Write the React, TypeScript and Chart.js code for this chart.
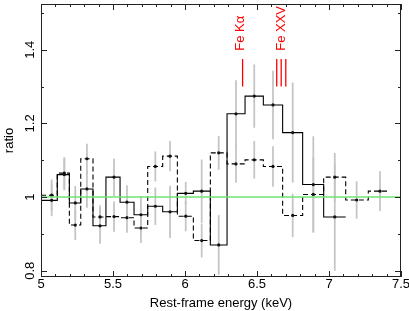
import React, { useEffect, useRef } from 'react';
import { Chart, registerables } from 'chart.js';

Chart.register(...registerables);

// ---- data ----
const binEdges = [5.0, 5.113, 5.197, 5.276, 5.361, 5.451, 5.549, 5.646, 5.741, 5.845, 5.947, 6.058, 6.176, 6.292, 6.417, 6.544, 6.678, 6.817, 6.963, 7.116, 7.273, 7.405];
const binCenters = [5.074, 5.162, 5.238, 5.319, 5.41, 5.507, 5.597, 5.694, 5.794, 5.896, 6.005, 6.116, 6.234, 6.354, 6.481, 6.611, 6.748, 6.891, 7.04, 7.192, 7.354];

const solidRatio = [0.991, 1.061, 0.984, 1.022, 0.922, 1.054, 0.986, 0.952, 0.975, 0.96, 1.01, 1.016, 0.87, 1.226, 1.274, 1.25, 1.175, 1.034, 0.946];
const solidErr = [0.042, 0.042, 0.045, 0.05, 0.048, 0.05, 0.045, 0.05, 0.05, 0.07, 0.03, 0.085, 0.08, 0.09, 0.085, 0.092, 0.135, 0.13, 0.145];

const dashedRatio = [1.005, 1.065, 0.924, 1.104, 0.946, 0.947, 0.944, 0.916, 1.083, 1.111, 0.948, 0.882, 1.12, 1.09, 1.101, 1.083, 0.95, 1.007, 1.054, 0.992, 1.016];
const dashedErr = [0.042, 0.042, 0.04, 0.04, 0.03, 0.04, 0.04, 0.04, 0.04, 0.04, 0.04, 0.045, 0.045, 0.05, 0.05, 0.054, 0.058, 0.1, 0.065, 0.05, 0.053];

const xTickValues = [5, 5.5, 6, 6.5, 7, 7.5];
const yTickValues = [0.8, 1, 1.2, 1.4];
const unityLine = [1];

const feKaEnergies = [6.4];
const feXXVEnergies = [6.637, 6.668, 6.7];
const markerLineRange = [1.3, 1.375];
const lineLabels = ['Fe Kα', 'Fe XXV'];
const lineLabelEnergies = [6.382, 6.672];
const lineLabelBase = 1.397;

const X_MIN = 5;
const X_MAX = 7.5;
const Y_MIN = 0.783;
const Y_MAX = 1.524;

const FONT = '"Liberation Sans", Arial, Helvetica, sans-serif';

function stepPoints(values: number[]) {
  const pts = values.map((v, i) => ({ x: binEdges[i], y: v }));
  pts.push({ x: binEdges[values.length], y: values[values.length - 1] });
  return pts;
}

function errorBars(values: number[], errs: number[]) {
  return values.map((v, i) => ({ x: binCenters[i], y: [v - errs[i], v + errs[i]] }));
}

function centerPoints(values: number[]) {
  return values.map((v, i) => ({ x: binCenters[i], y: v }));
}

function markerLines(energies: number[][]) {
  const pts: any[] = [];
  energies.forEach((group) => {
    group.forEach((e) => {
      pts.push({ x: e, y: markerLineRange[0] });
      pts.push({ x: e, y: markerLineRange[1] });
      pts.push({ x: e, y: null });
    });
  });
  return pts;
}

const framePlugin = {
  id: 'frameTicks',
  afterDatasetsDraw(chart: any) {
    const { ctx, chartArea: a, scales } = chart;
    const xs = scales.x;
    const ys = scales.y;
    ctx.save();
    ctx.strokeStyle = '#222';
    ctx.lineWidth = 1;
    ctx.strokeRect(a.left + 0.5, a.top + 0.5, a.right - a.left - 1, a.bottom - a.top - 1);
    ctx.beginPath();
    for (let i = 0; i <= 25; i++) {
      const v = X_MIN + i * 0.1;
      const px = Math.round(xs.getPixelForValue(v)) + 0.5;
      const len = i % 5 === 0 ? 6 : 3;
      ctx.moveTo(px, a.bottom);
      ctx.lineTo(px, a.bottom - len);
      ctx.moveTo(px, a.top);
      ctx.lineTo(px, a.top + len);
    }
    for (let i = 8; i <= 15; i++) {
      const v = i / 10;
      const py = Math.round(ys.getPixelForValue(v)) + 0.5;
      const len = i % 2 === 0 ? 6 : 3;
      ctx.moveTo(a.left, py);
      ctx.lineTo(a.left + len, py);
      ctx.moveTo(a.right, py);
      ctx.lineTo(a.right - len, py);
    }
    ctx.stroke();

    // line labels
    ctx.fillStyle = '#ff0000';
    ctx.font = `13px ${FONT}`;
    ctx.textAlign = 'left';
    ctx.textBaseline = 'middle';
    lineLabels.forEach((label, i) => {
      const px = xs.getPixelForValue(lineLabelEnergies[i]);
      const py = ys.getPixelForValue(lineLabelBase);
      ctx.save();
      ctx.translate(px, py);
      ctx.rotate(-Math.PI / 2);
      ctx.fillText(label, 0, 0);
      ctx.restore();
    });
    ctx.restore();
  },
};

export default function App() {
  const ref = useRef<HTMLCanvasElement>(null);

  useEffect(() => {
    document.body.style.margin = '0';
    const canvas = ref.current;
    if (!canvas) return;
    const chart = new Chart(canvas, {
      type: 'line',
      data: {
        datasets: [
          {
            type: 'bar',
            data: errorBars(solidRatio, solidErr) as any,
            backgroundColor: '#c4c4c4',
            borderWidth: 0,
            barThickness: 1.1,
            grouped: false,
            order: 5,
          } as any,
          {
            type: 'bar',
            data: errorBars(dashedRatio, dashedErr) as any,
            backgroundColor: '#c4c4c4',
            borderWidth: 0,
            barThickness: 1.1,
            grouped: false,
            order: 5,
          } as any,
          {
            data: stepPoints(solidRatio),
            borderColor: '#000',
            borderWidth: 1.1,
            stepped: 'before',
            pointRadius: 0,
            fill: false,
            order: 3,
          },
          {
            data: stepPoints(dashedRatio),
            borderColor: '#000',
            borderWidth: 1.1,
            borderDash: [5, 3],
            stepped: 'before',
            pointRadius: 0,
            fill: false,
            order: 3,
          },
          {
            data: centerPoints(solidRatio),
            showLine: false,
            pointRadius: 1.6,
            pointBackgroundColor: '#111',
            pointBorderWidth: 0,
            order: 2,
          },
          {
            data: centerPoints(dashedRatio),
            showLine: false,
            pointRadius: 1.6,
            pointBackgroundColor: '#111',
            pointBorderWidth: 0,
            order: 2,
          },
          {
            data: [
              { x: X_MIN, y: unityLine[0] },
              { x: X_MAX, y: unityLine[0] },
            ],
            borderColor: '#72e472',
            borderWidth: 1.5,
            pointRadius: 0,
            order: 0,
          },
          {
            data: markerLines([feKaEnergies, feXXVEnergies]),
            borderColor: '#ff0000',
            borderWidth: 1.3,
            pointRadius: 0,
            spanGaps: false,
            order: 0,
          },
        ] as any,
      },
      options: {
        animation: false,
        responsive: false,
        maintainAspectRatio: false,
        layout: { padding: { top: 1, right: 8, left: 0, bottom: 0 } },
        plugins: { legend: { display: false }, tooltip: { enabled: false } },
        scales: {
          x: {
            type: 'linear',
            min: X_MIN,
            max: X_MAX,
            offset: false,
            grid: { display: false, offset: false, drawTicks: false },
            border: { display: false },
            afterBuildTicks: (s: any) => {
              s.ticks = xTickValues.map((v) => ({ value: v }));
            },
            afterFit: (s: any) => {
              s.height = 34;
              s.paddingLeft = 0;
              s.paddingRight = 0;
            },
            ticks: {
              padding: 0,
              color: '#000',
              autoSkip: false,
              maxRotation: 0,
              font: { family: FONT, size: 13 },
              callback: (v: any) => String(Number(Number(v).toFixed(2))),
            },
            title: {
              display: true,
              text: 'Rest-frame energy (keV)',
              color: '#000',
              font: { family: FONT, size: 13 },
              padding: { top: 0, bottom: 0 },
            },
          },
          y: {
            type: 'linear',
            min: Y_MIN,
            max: Y_MAX,
            beginAtZero: false,
            grid: { display: false, drawTicks: false },
            border: { display: false },
            afterBuildTicks: (s: any) => {
              s.ticks = yTickValues.map((v) => ({ value: v }));
            },
            afterFit: (s: any) => {
              s.width = 41;
              s.paddingTop = 0;
              s.paddingBottom = 0;
            },
            ticks: {
              padding: 2,
              color: '#000',
              minRotation: 90,
              maxRotation: 90,
              crossAlign: 'center',
              font: { family: FONT, size: 13 },
              callback: (v: any) => String(Number(Number(v).toFixed(2))),
            },
            title: {
              display: true,
              text: 'ratio',
              color: '#000',
              font: { family: FONT, size: 13 },
              padding: { top: 2, bottom: 0 },
            },
          },
        },
      } as any,
      plugins: [framePlugin],
    });
    return () => chart.destroy();
  }, []);

  return <canvas ref={ref} width={409} height={311} style={{ display: 'block' }} />;
}
